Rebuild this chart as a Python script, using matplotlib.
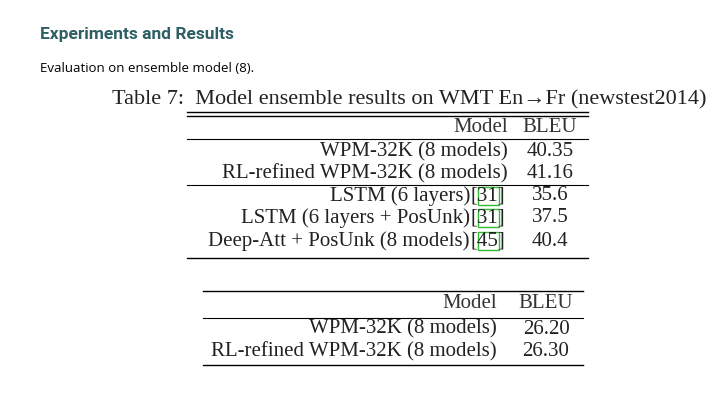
import matplotlib
matplotlib.use('Agg')
import matplotlib.pyplot as plt
from matplotlib.patches import Rectangle

title = "Experiments and Results"
subtitle = "Evaluation on ensemble model (8)."
caption = "Table 7:  Model ensemble results on WMT En\u2192Fr (newstest2014)"

t1_models = ["WPM-32K (8 models)", "RL-refined WPM-32K (8 models)",
             "LSTM (6 layers)", "LSTM (6 layers + PosUnk)", "Deep-Att + PosUnk (8 models)"]
t1_cites = ["", "", "31", "31", "45"]
t1_bleu = ["40.35", "41.16", "35.6", "37.5", "40.4"]

t2_models = ["WPM-32K (8 models)", "RL-refined WPM-32K (8 models)"]
t2_bleu = ["26.20", "26.30"]

fig = plt.figure(figsize=(7.2, 4.05), dpi=100)
ax = fig.add_axes([0, 0, 1, 1])
ax.set_xlim(0, 720)
ax.set_ylim(405, 0)
ax.axis('off')

ax.text(40, 35, title, fontsize=12.5, fontweight='bold', color='#2f5f63',
        family='Roboto', va='center')
ax.text(40, 68, subtitle, fontsize=9.5, color='black', family='Open Sans', va='center')

serif = 'Liberation Serif'
fs = 15
ax.text(112, 100, caption, fontsize=16, family=serif, va='center', color='#222222')

def rule(y, x0, x1, lw=1.0):
    ax.plot([x0, x1], [y, y], color='black', lw=lw)

# table 1
x0, x1 = 187, 588
rule(112, x0, x1, 1.0)
rule(116, x0, x1, 1.0)
ax.text(508, 127, "Model", fontsize=fs, family=serif, ha='right', va='center', color='#333333')
ax.text(550, 127, "BLEU", fontsize=fs, family=serif, ha='center', va='center', color='#333333')
rule(139, x0, x1, 0.8)
ys1 = [152, 174, 196, 218, 241]
for i, (m, c, b) in enumerate(zip(t1_models, t1_cites, t1_bleu)):
    y = ys1[i]
    if c:
        ax.text(470, y, m, fontsize=fs, family=serif, ha='right', va='center', color='#222222')
        ax.text(488, y, "[" + c + "]", fontsize=fs, family=serif, ha='center', va='center', color='#222222')
        ax.add_patch(Rectangle((478, y - 9), 21, 18, fill=False, ec='#33bb33', lw=1))
    else:
        ax.text(508, y, m, fontsize=fs, family=serif, ha='right', va='center', color='#222222')
    ax.text(550, y, b, fontsize=fs, family=serif, ha='center', va='center', color='#222222')
    if i == 1:
        rule(185, x0, x1, 0.8)
rule(258, x0, x1, 1.0)

# table 2
x0, x1 = 203, 583
rule(291, x0, x1, 1.0)
ax.text(497, 304, "Model", fontsize=fs, family=serif, ha='right', va='center', color='#333333')
ax.text(546, 304, "BLEU", fontsize=fs, family=serif, ha='center', va='center', color='#333333')
rule(318, x0, x1, 0.8)
for y, m, b in zip([329, 352], t2_models, t2_bleu):
    ax.text(497, y, m, fontsize=fs, family=serif, ha='right', va='center', color='#222222')
    ax.text(546, y, b, fontsize=fs, family=serif, ha='center', va='center', color='#222222')
rule(365, x0, x1, 1.0)

fig.savefig('out.png', dpi=100)
